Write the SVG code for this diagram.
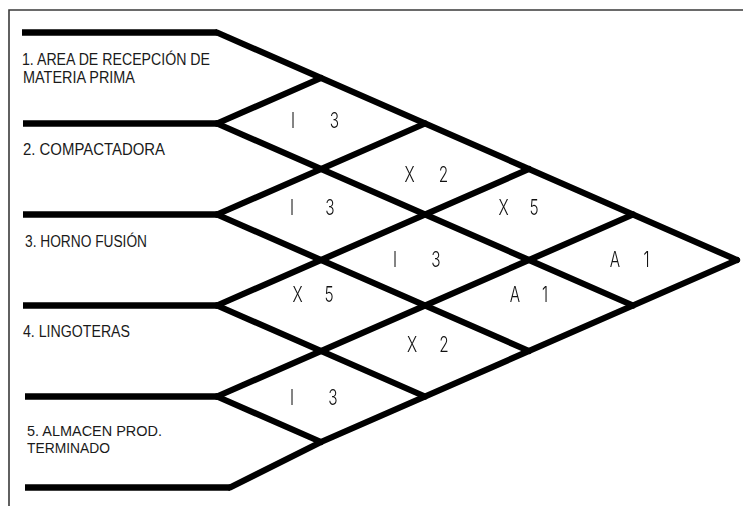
<svg xmlns="http://www.w3.org/2000/svg" width="743" height="506" viewBox="0 0 743 506">
  <style>
    .frame { fill: none; stroke: #3a3a3a; stroke-width: 1.6; }
    .bar { fill: none; stroke: #000; stroke-width: 6.5; stroke-linejoin: miter; stroke-linecap: butt; }
    .diag { fill: none; stroke: #000; stroke-width: 6.2; stroke-linejoin: miter; stroke-linecap: round; }
    .dept { font-family: "Liberation Sans", Arial, sans-serif; font-size: 16px; fill: #1a1a1a; }
    .dept.small { font-size: 15px; }
    .cell { font-family: Inter, "DejaVu Sans", "Liberation Sans", sans-serif; font-weight: 300; font-size: 22px; fill: #111; text-anchor: middle; }
    #cells { opacity: 0.995; }
  </style>
  <rect width="743" height="506" fill="#fff"/>
  <!-- page frame: top and left edges only -->
  <path class="frame" d="M9,506 V10 H743"/>

  <!-- departments: horizontal bars and names -->
  <g id="dept-1">
    <path class="bar" d="M22,32.5 H217"/>
    <text class="dept" x="22" y="65" textLength="188" lengthAdjust="spacingAndGlyphs">1. AREA DE RECEPCIÓN DE</text>
    <text class="dept" x="23" y="83" textLength="112" lengthAdjust="spacingAndGlyphs">MATERIA PRIMA</text>
  </g>
  <g id="dept-2">
    <path class="bar" d="M23,123.5 H217"/>
    <text class="dept" x="23" y="155" textLength="142" lengthAdjust="spacingAndGlyphs">2. COMPACTADORA</text>
  </g>
  <g id="dept-3">
    <path class="bar" d="M23,214.5 H217"/>
    <text class="dept" x="25" y="247" textLength="122" lengthAdjust="spacingAndGlyphs">3. HORNO FUSIÓN</text>
  </g>
  <g id="dept-4">
    <path class="bar" d="M23,305.5 H217"/>
    <text class="dept" x="23" y="337" textLength="107" lengthAdjust="spacingAndGlyphs">4. LINGOTERAS</text>
  </g>
  <g id="dept-5">
    <path class="bar" d="M25,396.5 H217"/>
    <text class="dept small" x="27" y="435.5" textLength="135" lengthAdjust="spacingAndGlyphs">5. ALMACEN PROD.</text>
    <text class="dept small" x="27" y="452.5" textLength="83" lengthAdjust="spacingAndGlyphs">TERMINADO</text>
  </g>
  <g id="dept-end">
    <path class="bar" d="M25,487.5 H230"/>
  </g>

  <!-- relationship lattice -->
  <g id="connectors">
    <!-- descending lines -->
    <path class="diag" d="M217,32.5 L737,260"/>
    <path class="diag" d="M217,123.5 L633,305.5"/>
    <path class="diag" d="M217,214.5 L529,351"/>
    <path class="diag" d="M217,305.5 L425,396.5"/>
    <path class="diag" d="M217,396.5 L321,442"/>
    <!-- ascending lines -->
    <path class="diag" d="M217,123.5 L321,78"/>
    <path class="diag" d="M217,214.5 L425,123.5"/>
    <path class="diag" d="M217,305.5 L529,169"/>
    <path class="diag" d="M217,396.5 L633,214.5"/>
    <path class="diag" d="M230,487.5 L321,442 L737,260"/>
  </g>

  <!-- relationship cells: closeness letter and reason code -->
  <g id="cells">
  <g id="cell-1-2">
    <text class="cell" transform="translate(293,128) scale(0.7,1)">I</text>
    <text class="cell" transform="translate(334.5,128) scale(0.7,1)">3</text>
  </g>
  <g id="cell-1-3">
    <text class="cell" transform="translate(409.5,182) scale(0.7,1)">X</text>
    <text class="cell" transform="translate(443.5,182) scale(0.7,1)">2</text>
  </g>
  <g id="cell-1-4">
    <text class="cell" transform="translate(503.5,215) scale(0.7,1)">X</text>
    <text class="cell" transform="translate(534,215) scale(0.7,1)">5</text>
  </g>
  <g id="cell-1-5">
    <text class="cell" transform="translate(615,267) scale(0.7,1)">A</text>
    <text class="cell" transform="translate(646.5,267) scale(0.7,1)">1</text>
  </g>
  <g id="cell-2-3">
    <text class="cell" transform="translate(292,215) scale(0.7,1)">I</text>
    <text class="cell" transform="translate(330,215) scale(0.7,1)">3</text>
  </g>
  <g id="cell-2-4">
    <text class="cell" transform="translate(395,267) scale(0.7,1)">I</text>
    <text class="cell" transform="translate(436,267) scale(0.7,1)">3</text>
  </g>
  <g id="cell-2-5">
    <text class="cell" transform="translate(515,302) scale(0.7,1)">A</text>
    <text class="cell" transform="translate(545,302) scale(0.7,1)">1</text>
  </g>
  <g id="cell-3-4">
    <text class="cell" transform="translate(297.5,302) scale(0.7,1)">X</text>
    <text class="cell" transform="translate(329,302) scale(0.7,1)">5</text>
  </g>
  <g id="cell-3-5">
    <text class="cell" transform="translate(412,352) scale(0.7,1)">X</text>
    <text class="cell" transform="translate(444,352) scale(0.7,1)">2</text>
  </g>
  <g id="cell-4-5">
    <text class="cell" transform="translate(292,405) scale(0.7,1)">I</text>
    <text class="cell" transform="translate(333,405) scale(0.7,1)">3</text>
  </g>
  </g>
</svg>
